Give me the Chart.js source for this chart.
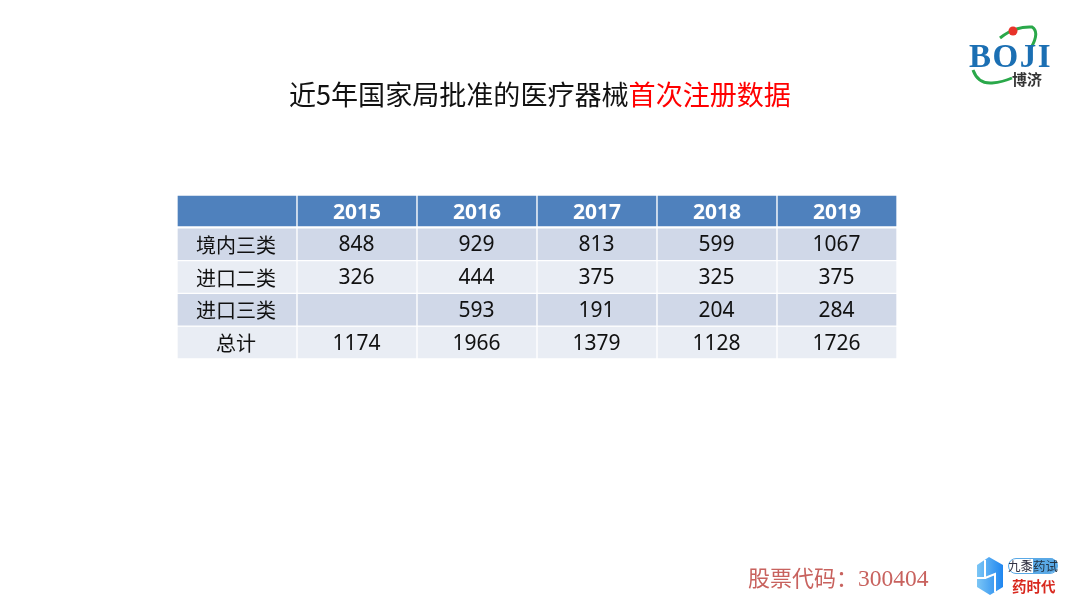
<!DOCTYPE html>
<html>
<head>
<meta charset="utf-8">
<script src="https://cdn.jsdelivr.net/npm/chart.js@4"></script>
<style>
body{margin:0;background:#fff;width:1080px;height:607px;overflow:hidden;position:relative;font-family:"Noto Sans CJK SC","Noto Sans",sans-serif}
#tableChart{position:absolute;left:0;top:0}
.abs{position:absolute;white-space:nowrap}
#title{left:289px;top:74px;font-size:27.05px;line-height:40px;color:#111}
#title span{color:#f00}
#code{left:748px;top:562px;font-size:22px;line-height:32px;color:#c8625e;font-family:"Liberation Serif","Noto Sans CJK SC",serif}
#code b{font-weight:normal;font-size:23.5px}
#logo{left:0;top:0}
</style>
</head>
<body>
<canvas id="tableChart" width="1080" height="607"></canvas>
<div id="title" class="abs">近5年国家局批准的医疗器械<span>首次注册数据</span></div>
<div id="code" class="abs">股票代码：<b>300404</b></div>
<svg id="logo" class="abs" width="1080" height="607">
<defs>
<linearGradient id="iconFill" x1="0" x2="1" y1="0" y2="0">
<stop offset="0" stop-color="#7cc6f5"/>
<stop offset="1" stop-color="#1f86f0"/>
</linearGradient>
</defs>
<path d="M1000 38Q1015 26 1032 27Q1040 32 1031 48" fill="none" stroke="#2aa84a" stroke-width="3"/>
<path d="M973 70Q978 84 992 83Q1003 82 1012 78" fill="none" stroke="#2aa84a" stroke-width="3"/>
<circle cx="1013" cy="31" r="4.5" fill="#e8332a"/>
<text x="969" y="67" font-family="Liberation Serif" font-weight="bold" font-size="33" fill="#1b6fb3" letter-spacing="1.5">BOJI</text>
<text x="1012" y="85" font-family="Noto Sans CJK SC" font-weight="bold" font-size="15" fill="#333">博济</text>
<path d="M989 557L1003 565V587L990 595L977 587V565Z" fill="url(#iconFill)"/>
<path d="M985 560V578H977M985 578L995 574V592" stroke="#fff" stroke-width="2" fill="none"/>
<rect x="1008.500" y="558.500" width="49" height="15" rx="7.500" fill="#fff" stroke="#5aa9e6"/>
<path d="M1033 558H1050A7.500 7.500 0 0 1 1050 573H1033Z" fill="#5aa9e6"/>
<text x="1008" y="571" font-family="Noto Sans CJK SC" font-size="12.500" fill="#334">九黍</text>
<text x="1033" y="571" font-family="Noto Sans CJK SC" font-size="12.500" fill="#234">药试</text>
<text x="1012" y="592" font-family="Noto Sans CJK SC" font-weight="bold" font-size="14.500" fill="#d8281e">药时代</text>
</svg>
<script>
const columns=['','2015','2016','2017','2018','2019'];
const headerRow=['2015','2016','2017','2018','2019'];
const rowLabels=['境内三类','进口二类','进口三类','总计'];
const domestic3=[848,929,813,599,1067];
const import2=[326,444,375,325,375];
const import3=[null,593,191,204,284];
const totals=[1174,1966,1379,1128,1726];

const rowValues=[domestic3,import2,import3,totals];
const rowColors=['#d0d8e8','#e9edf4','#d0d8e8','#e9edf4'];

// every row is one stacked band, one unit tall
const datasets=[{
data:columns.map(()=>1),
backgroundColor:'#4f81bd',
borderColor:'#fff',
borderWidth:{top:1,left:1,right:1,bottom:2}
}];
rowValues.forEach((vals,i)=>{
datasets.push({
data:columns.map(()=>1),
backgroundColor:rowColors[i],
borderColor:'#fff',
borderWidth:1
});
});

// cell text, placed through the chart scales
const cellText={
id:'cellText',
afterDatasetsDraw(chart){
const {ctx,scales:{x,y}}=chart;
ctx.save();
ctx.textAlign='center';
ctx.textBaseline='middle';
ctx.fillStyle='#fff';
ctx.font='bold 21px "Noto Sans","Noto Sans CJK SC"';
headerRow.forEach((t,i)=>{
ctx.fillText(t,x.getPixelForValue(i+1),y.getPixelForValue(0.5)+1.5);
});
ctx.fillStyle='#111';
rowLabels.forEach((t,r)=>{
const py=y.getPixelForValue(r+1.5)+1;
ctx.font='20px "Noto Sans CJK SC"';
ctx.fillText(t,x.getPixelForValue(0)-1,py);
ctx.font='21px "Noto Sans"';
rowValues[r].forEach((v,c)=>{
if(v!==null)ctx.fillText(v,x.getPixelForValue(c+1)-0.5,py);
});
});
ctx.restore();
}
};

new Chart(document.getElementById('tableChart'),{
type:'bar',
data:{labels:columns,datasets:datasets},
plugins:[cellText],
options:{
responsive:false,
animation:false,
layout:{padding:{left:177,right:183,top:195,bottom:248}},
datasets:{bar:{barPercentage:1,categoryPercentage:1,borderSkipped:false}},
plugins:{legend:{display:false},tooltip:{enabled:false}},
scales:{
x:{display:false,stacked:true},
y:{display:false,stacked:true,reverse:true,min:0,max:5}
}
}
});
</script>
</body>
</html>
